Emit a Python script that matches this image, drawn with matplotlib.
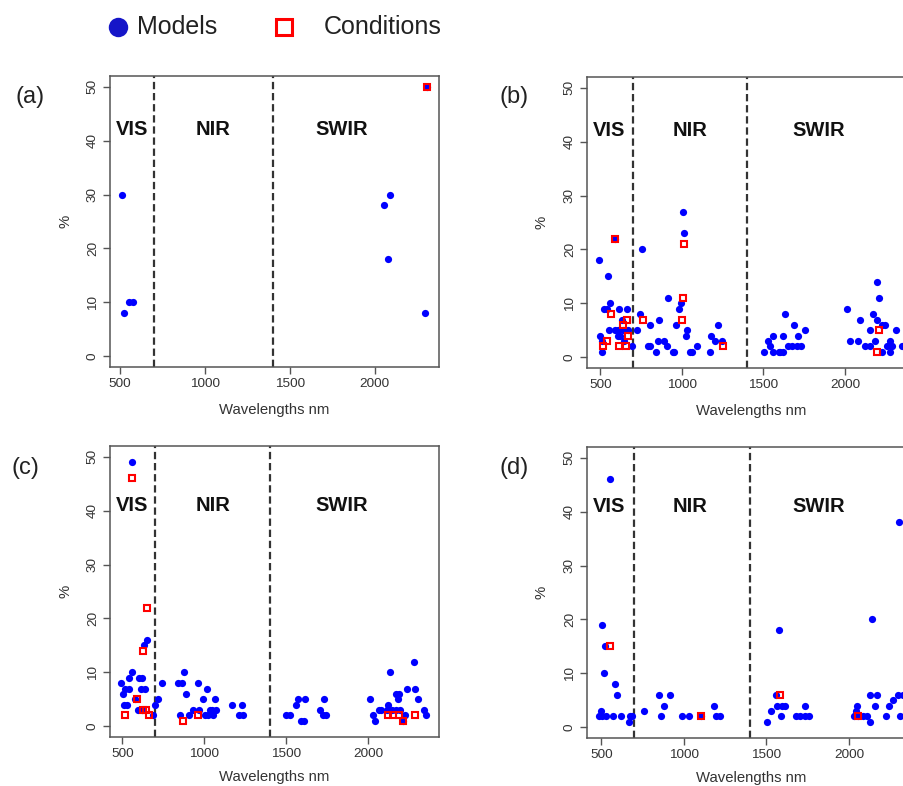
import matplotlib.pyplot as plt
import matplotlib.transforms as mtransforms
from matplotlib.lines import Line2D

plt.rcParams["font.family"] = ["Liberation Sans", "DejaVu Sans"]

# ---- data: wavelength (nm) and percentage, per panel ----
a_model_wl = [510, 525, 555, 575, 2053, 2092, 2078, 2294, 2308]
a_model_pct = [30, 8, 10, 10, 28, 30, 18, 8, 50]
a_cond_wl = [2308]
a_cond_pct = [50]

b_model_wl = [492, 545, 592, 525, 540, 560, 614, 662, 631, 553, 590, 610, 623, 498,
              508, 606, 512, 692, 645, 668, 640,
              758, 743, 723, 805, 860, 794, 805, 840, 856, 893, 907, 948, 954, 917,
              983, 995, 962, 1030, 1024, 1005, 1015, 1060, 1048, 1091, 1171, 1181,
              1222, 1202, 1246,
              1502, 1529, 1543, 1559, 1559, 1594, 1620, 1604, 1620, 1635, 1649, 1676,
              1690, 1707, 1710, 1731, 1758, 2013, 2034, 2079, 2091, 2126, 2152, 2156,
              2172, 2183, 2197, 2211, 2197, 2228, 2244, 2259, 2279, 2289, 2279, 2314,
              2351, 2230]
b_model_pct = [18, 15, 22, 9, 9, 10, 9, 9, 7, 5, 5, 5, 4, 4,
               3, 4, 1, 2, 3, 5, 5,
               20, 8, 5, 6, 7, 2, 2, 1, 3, 3, 2, 1, 1, 11,
               9, 10, 6, 5, 4, 27, 23, 1, 1, 2, 1, 4,
               6, 3, 3,
               1, 3, 2, 1, 4, 1, 1, 1, 4, 8, 2, 2,
               6, 2, 4, 2, 5, 9, 3, 3, 7, 2, 2, 5,
               8, 3, 14, 11, 7, 1, 6, 2, 3, 2, 1, 5,
               2, 6]
b_cond_wl = [592, 565, 539, 518, 614, 655, 641, 666, 672, 760, 1015, 1009, 1003, 1250,
             2210, 2197]
b_cond_pct = [22, 8, 3, 2, 2, 2, 6, 7, 4, 7, 21, 11, 7, 2, 5, 1]

c_model_wl = [561, 648, 632, 557, 543, 604, 622, 492, 516, 541, 612, 638, 506, 577,
              720, 744, 510, 526, 699, 598, 618, 689,
              876, 841, 862, 963, 1018, 888, 994, 1065, 933, 970, 1035, 1049, 1075,
              1167, 1228, 852, 906, 1004, 1024, 1055, 1213, 1238,
              1498, 1526, 1559, 1573, 1614, 1593, 1607, 1732, 1709, 1722, 1746,
              2014, 2030, 2040, 2067, 2081, 2122, 2136, 2116, 2173, 2189, 2183, 2148,
              2169, 2193, 2240, 2287, 2283, 2303, 2344, 2354, 2213, 2228]
c_model_pct = [49, 16, 15, 10, 9, 9, 9, 8, 7, 7, 7, 7, 6, 5,
               5, 8, 4, 4, 4, 3, 3, 2,
               10, 8, 8, 8, 7, 6, 5, 5, 3, 3, 3, 3, 3,
               4, 4, 2, 2, 2, 2, 2, 2, 2,
               2, 2, 4, 5, 5, 1, 1, 5, 3, 2, 2,
               5, 2, 1, 3, 3, 4, 10, 3, 6, 6, 5, 3,
               3, 3, 7, 7, 12, 5, 3, 2, 1, 2]
c_cond_wl = [561, 652, 628, 591, 628, 642, 516, 665, 872, 963, 2122, 2153, 2189, 2213,
             2285]
c_cond_pct = [46, 22, 14, 5, 3, 3, 2, 2, 1, 2, 2, 2, 2, 1, 2]

d_model_wl = [504, 524, 555, 516, 585, 595, 496, 486, 506, 526, 571, 621, 676, 668, 688,
              759, 847, 914, 878, 864, 989, 1029, 1102, 1183, 1197, 1221,
              1506, 1529, 1577, 1557, 1567, 1592, 1612, 1588, 1678, 1706, 1732, 1758,
              1732, 2050, 2042, 2030, 2056, 2082, 2110, 2126, 2171, 2157, 2130, 2142,
              2227, 2243, 2268, 2298, 2328, 2308, 2304]
d_model_pct = [19, 15, 46, 10, 8, 6, 3, 2, 2, 2, 2, 2, 2, 1, 2,
               3, 6, 6, 4, 2, 2, 2, 2, 4, 2, 2,
               1, 3, 18, 6, 4, 4, 4, 2, 2, 2, 2, 2,
               4, 4, 3, 2, 2, 2, 2, 6, 6, 4, 1, 20,
               2, 4, 5, 6, 6, 2, 38]
d_cond_wl = [555, 1102, 1582, 2056]
d_cond_pct = [15, 2, 6, 2]

# ---- layout (pixels of a 904x786 canvas) ----
W, H = 904, 786
AX_W, AX_H = 329, 291

panels = [
    ("(a)", 110, 76, (441, 2378), a_model_wl, a_model_pct, a_cond_wl, a_cond_pct, 42, 43),
    ("(b)", 587, 77, (418, 2436), b_model_wl, b_model_pct, b_cond_wl, b_cond_pct, 42, 43),
    ("(c)", 110, 446, (425, 2433), c_model_wl, c_model_pct, c_cond_wl, c_cond_pct, 41, 40),
    ("(d)", 587, 447, (413, 2406), d_model_wl, d_model_pct, d_cond_wl, d_cond_pct, 41, 40),
]
label_pos = {"(a)": (30, 97), "(b)": (514, 97), "(c)": (25, 468), "(d)": (514, 468)}

fig = plt.figure(figsize=(W / 100, H / 100), dpi=100)
grey = "#555555"
txt = "#333333"

for name, left, top, xlim, mx, my, cx, cy, ry, xl_off in panels:
    ax = fig.add_axes([left / W, 1 - (top + AX_H) / H, AX_W / W, AX_H / H])
    ax.plot(mx, my, "o", ms=5.2, color="blue", mew=0, zorder=3)
    ax.plot(cx, cy, "s", ms=4.6, mfc="none", mec="red", mew=1.5, zorder=4)
    for wl in (700, 1400):
        ax.axvline(wl, color="#333333", lw=1.6, ls=(0, (3.3, 1.7)), zorder=2)
    ax.set_xlim(*xlim)
    ax.set_ylim(-2, 52)
    ax.set_xticks([500, 1000, 1500, 2000])
    ax.set_yticks([0, 10, 20, 30, 40, 50])
    ax.tick_params(direction="out", length=5, width=1, color=grey,
                   labelsize=9.7, labelcolor=txt, pad=3)
    ax.tick_params(axis="y", labelrotation=90)
    for lab in ax.get_yticklabels():
        lab.set_va("center")
    for sp in ax.spines.values():
        sp.set_color(grey)
        sp.set_linewidth(1.1)

    trans = mtransforms.blended_transform_factory(ax.transAxes, ax.transData)
    for region, fx in (("VIS", 0.067), ("NIR", 0.313), ("SWIR", 0.705)):
        ax.text(fx, ry, region, transform=trans, ha="center", va="center",
                fontsize=14.5, fontweight="bold", color="#111111")

    ax.text(0.5, -xl_off / AX_H, "Wavelengths nm", transform=ax.transAxes,
            ha="center", va="center", fontsize=10.7, color=txt)
    ax.text(-45 / AX_W, 0.5, "%", transform=ax.transAxes, rotation=90,
            ha="center", va="center", fontsize=10.7, color=txt)

    lx, ly = label_pos[name]
    fig.text(lx / W, 1 - ly / H, name, ha="center", va="center",
             fontsize=17, color="#222222")

# legend drawn at the top of the canvas
ly = 1 - 27 / H
fig.add_artist(Line2D([118 / W], [ly], marker="o", ms=14, color="#1515c8",
                      mew=0, transform=fig.transFigure))
fig.text(137 / W, ly, "Models", ha="left", va="center", fontsize=18, color="#222222")
fig.add_artist(Line2D([284 / W], [ly], marker="s", ms=12, mfc="none", mec="red",
                      mew=2.2, transform=fig.transFigure))
fig.text(324 / W, ly, "Conditions", ha="left", va="center", fontsize=18, color="#222222")

fig.savefig("out.png", dpi=100)
